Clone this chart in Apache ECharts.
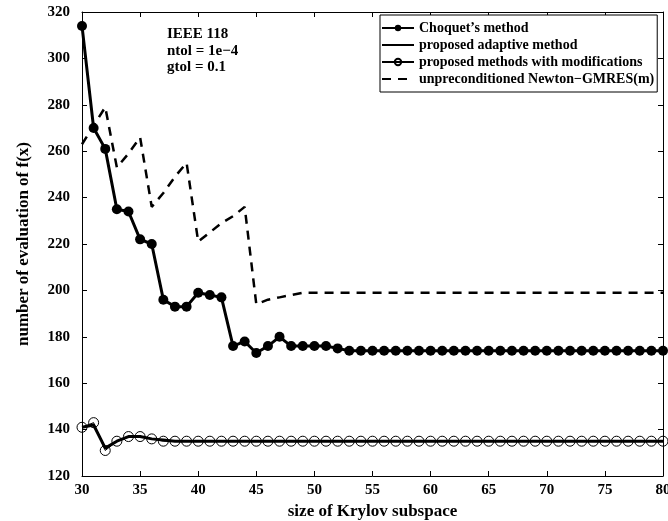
<!DOCTYPE html>
<html>
<head>
<meta charset="UTF-8">
<title>Krylov subspace size</title>
<script src="https://cdn.jsdelivr.net/npm/echarts@6/dist/echarts.min.js"></script>
<style>
  html, body { margin: 0; padding: 0; background: #fff; }
  #chart { width: 668px; height: 521px; }
</style>
</head>
<body>
<div id="chart"></div>
<script>
  // size of Krylov subspace, 30..80
  var krylovSize = [];
  for (var k = 30; k <= 80; k++) krylovSize.push(k);

  var choquet = [314, 270, 261, 235, 234, 222, 220, 196, 193, 193,
                 199, 198, 197, 176, 178, 173, 176, 180, 176, 176,
                 176, 176, 175, 174, 174, 174, 174, 174, 174, 174,
                 174, 174, 174, 174, 174, 174, 174, 174, 174, 174,
                 174, 174, 174, 174, 174, 174, 174, 174, 174, 174, 174];

  var adaptive = [141, 142, 132, 135, 137, 137, 136, 135.5, 135, 135,
                  135, 135, 135, 135, 135, 135, 135, 135, 135, 135,
                  135, 135, 135, 135, 135, 135, 135, 135, 135, 135,
                  135, 135, 135, 135, 135, 135, 135, 135, 135, 135,
                  135, 135, 135, 135, 135, 135, 135, 135, 135, 135, 135];

  var modified = [141, 143, 131, 135, 137, 137, 136, 135, 135, 135,
                  135, 135, 135, 135, 135, 135, 135, 135, 135, 135,
                  135, 135, 135, 135, 135, 135, 135, 135, 135, 135,
                  135, 135, 135, 135, 135, 135, 135, 135, 135, 135,
                  135, 135, 135, 135, 135, 135, 135, 135, 135, 135, 135];

  var unprecond = [263, 271, 279, 253, 259, 266, 236, 242, 249, 255,
                   221, 225, 229, 232, 236, 194, 196, 197, 198, 199,
                   199, 199, 199, 199, 199, 199, 199, 199, 199, 199,
                   199, 199, 199, 199, 199, 199, 199, 199, 199, 199,
                   199, 199, 199, 199, 199, 199, 199, 199, 199, 199, 199];

  var seriesNames = ['Choquet\u2019s method', 'proposed adaptive method',
                     'proposed methods with modifications', 'unpreconditioned Newton\u2212GMRES(m)'];

  function pairs(ys) {
    return krylovSize.map(function (x, i) { return [x, ys[i]]; });
  }

  var serif = '"Times New Roman", "Liberation Serif", "DejaVu Serif", serif';
  var chart = echarts.init(document.getElementById('chart'));

  var axisLine = { show: true, lineStyle: { color: '#000', width: 1 } };
  var tickIn = { show: true, inside: true, length: 5, lineStyle: { color: '#000' } };
  var noSymbol = { opacity: 0 };

  var option = {
    animation: false,
    backgroundColor: '#fff',
    textStyle: { fontFamily: serif },
    grid: { left: 82, right: 5, top: 12, bottom: 45, outerBoundsMode: 'none' },
    legend: {
      orient: 'vertical',
      left: 380,
      top: 15,
      padding: [6, 3, 6, 1],
      itemGap: 3,
      itemWidth: 32,
      itemHeight: 8,
      borderColor: '#000',
      borderWidth: 1,
      backgroundColor: '#fff',
      textStyle: { fontFamily: serif, fontWeight: 'bold', fontSize: 14, color: '#000' },
      data: [
        { name: seriesNames[0] },
        { name: seriesNames[1], itemStyle: noSymbol },
        { name: seriesNames[2] },
        { name: seriesNames[3], itemStyle: noSymbol }
      ]
    },
    graphic: [{
      type: 'text',
      left: 167,
      top: 26,
      style: {
        text: 'IEEE 118\nntol = 1e\u22124\ngtol = 0.1',
        font: 'bold 15px ' + serif,
        lineHeight: 16.5,
        fill: '#000'
      }
    }],
    xAxis: [{
      type: 'value',
      min: 30, max: 80, interval: 5,
      name: 'size of Krylov subspace',
      nameLocation: 'middle',
      nameGap: 25,
      nameTextStyle: { fontFamily: serif, fontWeight: 'bold', fontSize: 17, color: '#000' },
      axisLine: axisLine,
      axisTick: tickIn,
      axisLabel: { fontFamily: serif, fontWeight: 'bold', fontSize: 15, color: '#000', margin: 7 },
      splitLine: { show: false }
    }, {
      type: 'value', position: 'top',
      min: 30, max: 80, interval: 5,
      axisLine: axisLine, axisTick: tickIn,
      axisLabel: { show: false }, splitLine: { show: false }
    }],
    yAxis: [{
      type: 'value',
      min: 120, max: 320, interval: 20,
      name: 'number of evaluation of f(x)',
      nameLocation: 'middle',
      nameGap: 50,
      nameTextStyle: { fontFamily: serif, fontWeight: 'bold', fontSize: 17, color: '#000' },
      axisLine: axisLine,
      axisTick: tickIn,
      axisLabel: { fontFamily: serif, fontWeight: 'bold', fontSize: 15, color: '#000', margin: 12 },
      splitLine: { show: false }
    }, {
      type: 'value', position: 'right',
      min: 120, max: 320, interval: 20,
      axisLine: axisLine, axisTick: tickIn,
      axisLabel: { show: false }, splitLine: { show: false }
    }],
    series: [
      {
        name: seriesNames[0],
        type: 'line',
        data: pairs(choquet),
        symbol: 'circle',
        symbolSize: 10,
        lineStyle: { color: '#000', width: 3 },
        itemStyle: { color: '#000' },
        z: 4
      },
      {
        name: seriesNames[1],
        type: 'line',
        data: pairs(adaptive),
        symbol: 'none',
        lineStyle: { color: '#000', width: 3 },
        itemStyle: { color: '#000' },
        z: 3
      },
      {
        name: seriesNames[2],
        type: 'line',
        data: pairs(modified),
        symbol: 'circle',
        symbolSize: 10,
        lineStyle: { color: '#000', width: 1 },
        itemStyle: { color: 'rgba(255,255,255,0)', borderColor: '#000', borderWidth: 1 },
        z: 2
      },
      {
        name: seriesNames[3],
        type: 'line',
        data: pairs(unprecond),
        symbol: 'none',
        lineStyle: { color: '#000', width: 2.5, type: [9, 7] },
        itemStyle: { color: '#000' },
        z: 2
      }
    ]
  };

  chart.setOption(option);
</script>
</body>
</html>
